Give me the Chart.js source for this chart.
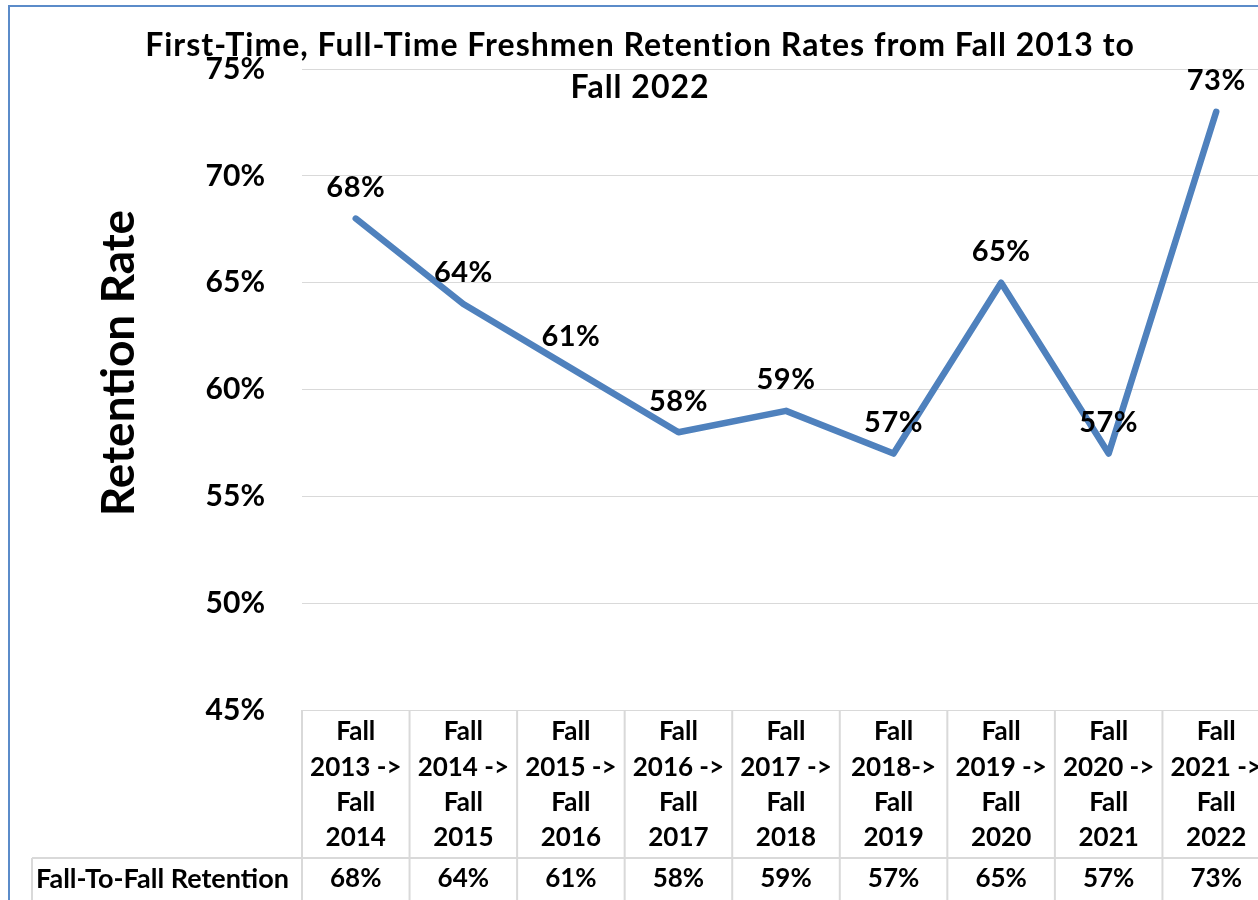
<!DOCTYPE html>
<html><head><meta charset="utf-8">
<script src="https://cdn.jsdelivr.net/npm/chart.js@4.4.0/dist/chart.umd.min.js"></script>
<style>
html,body{margin:0;padding:0;background:#fff;overflow:hidden}
#wrap{width:1258px;height:900px;overflow:hidden;position:relative}
canvas{display:block}
</style></head><body>
<div id="wrap"><canvas id="c" width="1300" height="900"></canvas></div>
<script>
const chartTitle = ["First-Time, Full-Time Freshmen Retention Rates from Fall 2013 to", "Fall 2022"];
const categories = [
  ["Fall", "2013 ->", "Fall", "2014"],
  ["Fall", "2014 ->", "Fall", "2015"],
  ["Fall", "2015 ->", "Fall", "2016"],
  ["Fall", "2016 ->", "Fall", "2017"],
  ["Fall", "2017 ->", "Fall", "2018"],
  ["Fall", "2018->", "Fall", "2019"],
  ["Fall", "2019 ->", "Fall", "2020"],
  ["Fall", "2020 ->", "Fall", "2021"],
  ["Fall", "2021 ->", "Fall", "2022"]
];
const retention = [68, 64, 61, 58, 59, 57, 65, 57, 73];
const yMin = 45, yMax = 75, yStep = 5;
const yAxisTitle = "Retention Rate";
const tableRowLabel = "Fall-To-Fall Retention";

const FONT = "Lato, 'Open Sans', sans-serif";
const GRID = "#d9d9d9";

const deco = {
  id: 'deco',
  afterDatasetsDraw(chart) {
    const ctx = chart.ctx;
    const meta = chart.getDatasetMeta(0);
    ctx.save();
    ctx.fillStyle = '#000';
    ctx.font = "bold 29px " + FONT;
    ctx.letterSpacing = '0.5px';
    ctx.textAlign = 'center';
    ctx.textBaseline = 'middle';
    meta.data.forEach((pt, i) => {
      ctx.fillText(retention[i] + '%', pt.x, pt.y - 31);
    });
    ctx.restore();
  },
  afterDraw(chart) {
    const ctx = chart.ctx, ca = chart.chartArea, xs = chart.scales.x;
    ctx.save();
    // outer border
    ctx.strokeStyle = '#5b8bc9';
    ctx.lineWidth = 2;
    ctx.strokeRect(9, 6, 1400, 1000);
    // title
    ctx.fillStyle = '#000';
    ctx.textAlign = 'center';
    ctx.textBaseline = 'middle';
    ctx.font = "bold 32px " + FONT;
    ctx.letterSpacing = '1px';
    ctx.fillText(chartTitle[0], 640, 46);
    ctx.fillText(chartTitle[1], 640, 88);
    ctx.letterSpacing = '0px';
    // y axis title
    ctx.save();
    ctx.translate(119, 363);
    ctx.rotate(-Math.PI / 2);
    ctx.font = "bold 46px " + FONT;
    ctx.fillText(yAxisTitle, 0, 0);
    ctx.restore();
    // data table
    const half = (xs.getPixelForValue(1) - xs.getPixelForValue(0)) / 2;
    const top = ca.bottom;
    const sep = top + 148;
    ctx.strokeStyle = GRID;
    ctx.lineWidth = 2;
    ctx.beginPath();
    for (let i = 0; i <= categories.length; i++) {
      const x = i < categories.length ? xs.getPixelForValue(i) - half : xs.getPixelForValue(i - 1) + half;
      ctx.moveTo(x, top); ctx.lineTo(x, chart.height);
    }
    ctx.moveTo(32, sep); ctx.lineTo(chart.width, sep);
    ctx.moveTo(32, sep); ctx.lineTo(32, chart.height);
    ctx.stroke();
    ctx.font = "bold 26px " + FONT;
    categories.forEach((lines, i) => {
      const x = xs.getPixelForValue(i);
      lines.forEach((t, k) => ctx.fillText(t, x, top + 22 + k * 35.3));
      ctx.fillText(retention[i] + '%', x, sep + 21);
    });
    ctx.textAlign = 'left';
    ctx.font = "bold 27px " + FONT;
    ctx.fillText(tableRowLabel, 36, sep + 21);
    ctx.restore();
  }
};

new Chart(document.getElementById('c'), {
  type: 'line',
  data: {
    labels: categories.map(c => c.join(' ')),
    datasets: [{
      data: retention,
      borderColor: '#4f81bd',
      borderWidth: 6.5,
      borderCapStyle: 'round',
      borderJoinStyle: 'round',
      pointRadius: 0,
      tension: 0,
      fill: false
    }]
  },
  options: {
    responsive: false,
    animation: false,
    layout: { padding: { left: 8, top: 69, right: 30, bottom: 190 } },
    plugins: { legend: { display: false }, tooltip: { enabled: false }, title: { display: false } },
    scales: {
      x: { type: 'category', offset: true, display: false },
      y: {
        min: yMin, max: yMax,
        afterFit(scale) { scale.width = 294; },
        ticks: {
          stepSize: yStep,
          padding: 37,
          color: '#000',
          font: { family: FONT, size: 30, weight: 'bold' },
          callback: v => v + '%'
        },
        grid: { color: GRID, lineWidth: 1, drawTicks: false },
        border: { display: false }
      }
    }
  },
  plugins: [deco]
});
</script>
</body></html>
